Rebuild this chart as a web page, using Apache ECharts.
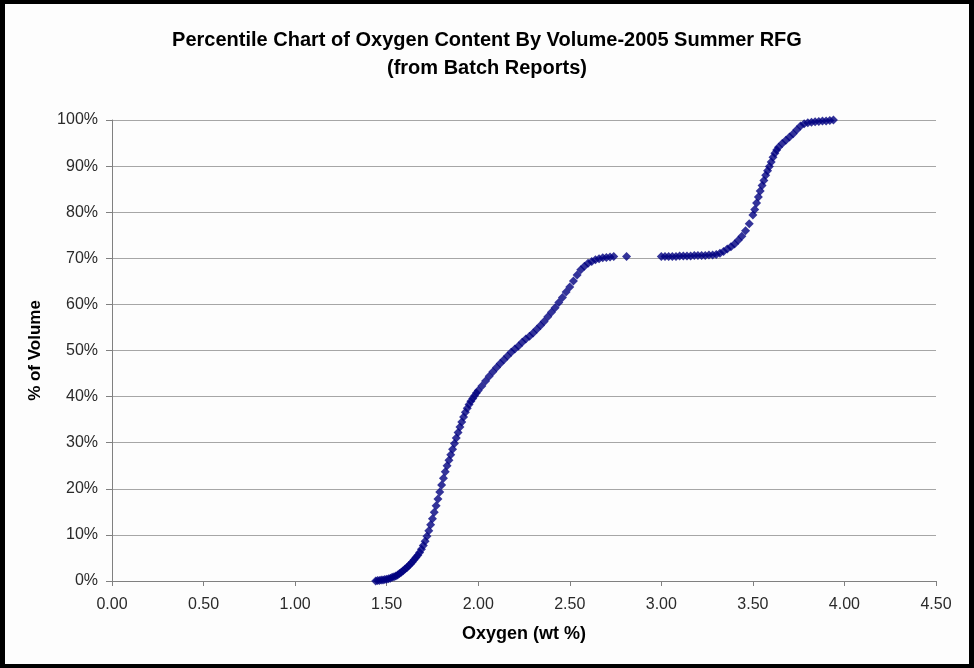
<!DOCTYPE html>
<html>
<head>
<meta charset="utf-8">
<script src="https://cdn.jsdelivr.net/npm/echarts@6/dist/echarts.min.js"></script>
<style>
  html, body { margin: 0; padding: 0; background: #fff; }
  #chart {
    width: 974px; height: 668px; box-sizing: border-box;
    border-style: solid; border-color: #000;
    border-width: 4px 5px 4px 5px; background: #fdfdfd;
  }
</style>
</head>
<body>
<div id="chart"></div>
<script>
// oxygen content (wt %)
var oxygen = [
  1.44, 1.45, 1.46, 1.47, 1.48, 1.49, 1.50, 1.51, 1.52, 1.53, 1.54, 1.55, 1.56, 1.57, 1.58, 1.59,
  1.60, 1.61, 1.62, 1.63, 1.64, 1.65, 1.66, 1.67, 1.68, 1.69, 1.70, 1.71, 1.72, 1.73, 1.74, 1.75,
  1.76, 1.77, 1.78, 1.79, 1.80, 1.81, 1.82, 1.83, 1.84, 1.85, 1.86, 1.87, 1.88, 1.89, 1.90, 1.91,
  1.92, 1.93, 1.94, 1.95, 1.96, 1.97, 1.98, 1.99, 2.00, 2.02, 2.04, 2.06, 2.08, 2.10, 2.12, 2.14,
  2.16, 2.18, 2.20, 2.22, 2.24, 2.26, 2.28, 2.30, 2.32, 2.34, 2.36, 2.38, 2.40, 2.42, 2.44, 2.46,
  2.48, 2.50, 2.52, 2.54, 2.56, 2.58, 2.60, 2.62, 2.64, 2.66, 2.68, 2.70, 2.72, 2.74, 2.81,
  3.00, 3.02, 3.04, 3.06, 3.08, 3.10, 3.12, 3.14, 3.16, 3.18, 3.20, 3.22, 3.24, 3.26, 3.28, 3.30,
  3.32, 3.34, 3.36, 3.38, 3.40, 3.42, 3.44, 3.46, 3.48, 3.50, 3.51, 3.52, 3.53, 3.54, 3.55, 3.56,
  3.57, 3.58, 3.59, 3.60, 3.61, 3.62, 3.63, 3.64, 3.66, 3.68, 3.70, 3.72, 3.74, 3.76, 3.78, 3.80,
  3.82, 3.84, 3.86, 3.88, 3.90, 3.92, 3.94
];
// cumulative % of volume
var volume = [
  0.0, 0.1, 0.1, 0.2, 0.2, 0.3, 0.4, 0.5, 0.6, 0.8, 0.9, 1.1, 1.3, 1.6, 1.9, 2.2,
  2.6, 2.9, 3.3, 3.7, 4.1, 4.6, 5.1, 5.6, 6.2, 6.9, 7.7, 8.6, 9.7, 10.9, 12.2, 13.5,
  14.9, 16.3, 17.8, 19.3, 20.8, 22.3, 23.7, 25.0, 26.2, 27.4, 28.6, 29.8, 31.0, 32.2, 33.4, 34.5,
  35.6, 36.6, 37.5, 38.3, 39.0, 39.6, 40.2, 40.8, 41.3, 42.3, 43.4, 44.4, 45.4, 46.3, 47.2, 48.0,
  48.8, 49.6, 50.3, 51.0, 51.8, 52.5, 53.1, 53.8, 54.6, 55.4, 56.3, 57.3, 58.3, 59.3, 60.4, 61.5,
  62.7, 63.8, 65.1, 66.4, 67.5, 68.3, 68.9, 69.3, 69.7, 69.9, 70.1, 70.2, 70.3, 70.4, 70.4,
  70.4, 70.4, 70.4, 70.4, 70.4, 70.5, 70.5, 70.5, 70.5, 70.6, 70.6, 70.6, 70.6, 70.7, 70.7, 70.8,
  71.1, 71.5, 72.0, 72.5, 73.1, 73.9, 74.8, 76.0, 77.5, 79.4, 80.6, 82.0, 83.3, 84.6, 85.8, 86.9,
  88.0, 89.0, 89.9, 90.9, 91.9, 92.8, 93.5, 94.1, 94.9, 95.6, 96.3, 97.0, 97.9, 98.7, 99.2, 99.4,
  99.5, 99.6, 99.7, 99.8, 99.8, 99.9, 100.0
];

var points = oxygen.map(function (x, i) { return [x, volume[i]]; });

var chart = echarts.init(document.getElementById('chart'));
var font = 'Arial, "Liberation Sans", sans-serif';

chart.setOption({
  animation: false,
  title: {
    text: 'Percentile Chart of Oxygen Content By Volume-2005 Summer RFG\n(from Batch Reports)',
    left: 'center',
    top: 17,
    textStyle: {
      fontFamily: font, fontSize: 20, fontWeight: 'bold', color: '#000', lineHeight: 28
    }
  },
  grid: { left: 107, right: 33, top: 116, bottom: 83 },
  xAxis: {
    type: 'value',
    min: 0, max: 4.5, interval: 0.5,
    name: 'Oxygen (wt %)',
    nameLocation: 'middle',
    nameGap: 44,
    nameTextStyle: { fontFamily: font, fontSize: 18, fontWeight: 'bold', color: '#000' },
    axisLine: { lineStyle: { color: '#808080', width: 1 } },
    axisTick: { show: true, length: 5, lineStyle: { color: '#808080' } },
    axisLabel: {
      fontFamily: font, fontSize: 16, color: '#2a2a2a', margin: 16,
      formatter: function (v) { return v.toFixed(2); }
    },
    splitLine: { show: false }
  },
  yAxis: {
    type: 'value',
    min: 0, max: 100, interval: 10,
    name: '% of Volume',
    nameLocation: 'middle',
    nameGap: 68,
    nameTextStyle: { fontFamily: font, fontSize: 17, fontWeight: 'bold', color: '#000' },
    axisLine: { show: true, lineStyle: { color: '#808080', width: 1 } },
    axisTick: { show: true, length: 6, lineStyle: { color: '#808080' } },
    axisLabel: {
      fontFamily: font, fontSize: 16, color: '#2a2a2a', margin: 14,
      formatter: '{value}%'
    },
    splitLine: { show: true, lineStyle: { color: '#a6a6a6', width: 1 } }
  },
  series: [{
    type: 'scatter',
    data: points,
    symbol: 'diamond',
    symbolSize: 9,
    itemStyle: { color: '#000080' }
  }]
});
</script>
</body>
</html>
